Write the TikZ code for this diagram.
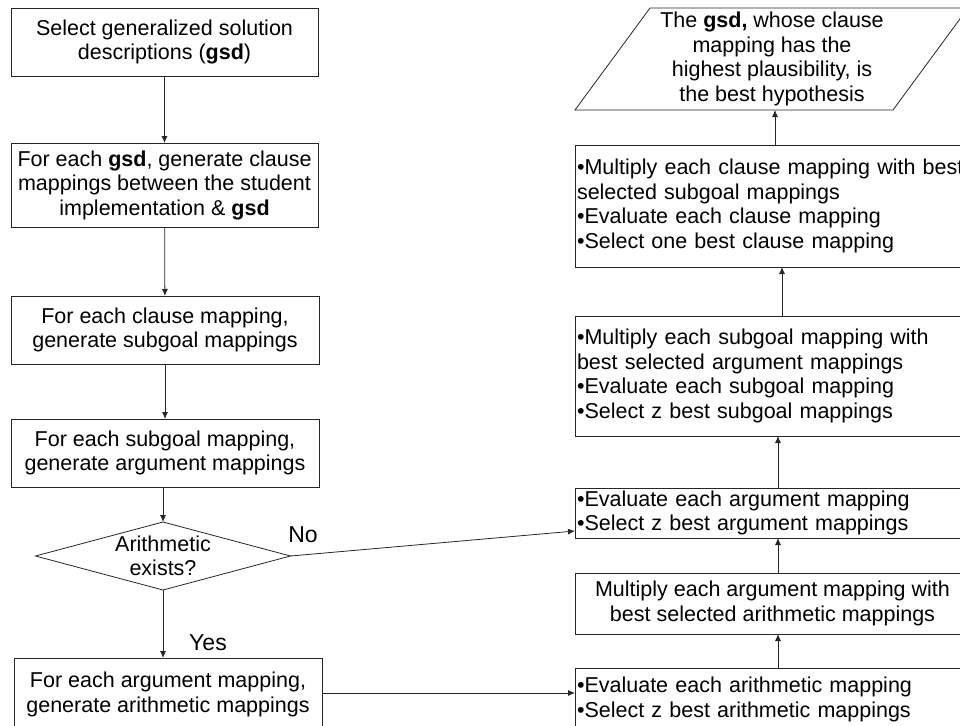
\documentclass[tikz,border=0pt]{standalone}
\usepackage{fontspec}
\setmainfont{Liberation Sans}
\usetikzlibrary{arrows.meta,shapes.geometric}
\begin{document}
\begin{tikzpicture}[x=1pt,y=-1pt,
  font=\fontsize{21.5}{24.5}\selectfont,
  every node/.style={inner sep=0pt, outer sep=0pt},
  lbox/.style={draw=black!85, line width=0.8pt, minimum width=307pt, align=center},
  rbox/.style={draw=black!85, line width=0.8pt, text width=391pt, inner xsep=2pt, align=left},
  rcbox/.style={draw=black!85, line width=0.8pt, minimum width=395pt, align=center},
  conn/.style={draw=black!85, line width=0.8pt, -{Latex[length=7pt,width=6pt]}},
  lbl/.style={font=\fontsize{23}{26}\selectfont}
]
\useasboundingbox (0,0) rectangle (960,725);
% left column
\node[lbox, minimum height=68pt] (b1) at (164.5,42) {Select generalized solution\\descriptions (\textbf{gsd})};
\node[lbox, minimum height=84pt] (b2) at (164.5,185) {For each \textbf{gsd}, generate clause\\mappings between the student\\implementation \& \textbf{gsd}};
\node[lbox, minimum height=68pt, minimum width=308pt] (b3) at (165,330) {For each clause mapping,\\generate subgoal mappings};
\node[lbox, minimum height=68pt, minimum width=308pt] (b4) at (165,453) {For each subgoal mapping,\\generate argument mappings};
\node[diamond, aspect=3.75, draw=black!85, line width=0.8pt, minimum width=255pt, minimum height=68pt, align=center] (d) at (163,556) {};
\node[align=center] at (163,556) {Arithmetic\\exists?};
\node[lbox, minimum height=73pt, minimum width=308pt] (b5) at (168,694.5) {For each argument mapping,\\generate arithmetic mappings};
% right column
\draw[black!85, line width=0.8pt] (575,110) -- (893,110) -- (968,8) -- (650,8) -- cycle;
\node[minimum width=318pt, minimum height=102pt, align=center] (p) at (772,59) {The \textbf{gsd,} whose clause\\mapping has the\\highest plausibility, is\\the best hypothesis};
\node[rbox, minimum height=122pt] (r1) at (772.5,206) {•Multiply each clause mapping with best\\selected subgoal mappings\\•Evaluate each clause mapping\\•Select one best clause mapping};
\node[rbox, minimum height=120pt] (r2) at (772.5,376) {•Multiply each subgoal mapping with\\best selected argument mappings\\•Evaluate each subgoal mapping\\•Select z best subgoal mappings};
\node[rbox, minimum height=50pt] (r3) at (772.5,513) {•Evaluate each argument mapping\\•Select z best argument mappings};
\node[rcbox, minimum height=61pt] (r4) at (772.5,603.5) {Multiply each argument mapping with\\best selected arithmetic mappings};
\node[rbox, minimum height=63pt] (r5) at (772.5,699.5) {•Evaluate each arithmetic mapping\\•Select z best arithmetic mappings};
% connectors left
\draw[conn] (b1) -- (b2);
\draw[conn] (b2) -- (b3);
\draw[conn] (b3) -- (b4);
\draw[conn] (b4.south -| d.north) -- (d.north);
\draw[conn] (d.south) -- (d.south |- b5.north);
\node[lbl] (yes) at (208,643) {Yes};
% connectors right
\draw[conn] (d.east) -- ([yshift=-18pt]r3.west);
\node[lbl] (no) at (303,535) {No};
\draw[conn] ([yshift=1.5pt]b5.east) -- ([yshift=1.5pt]b5.east -| r5.west);
\draw[conn] ([xshift=5.5pt]r5.north) -- ([xshift=5.5pt]r4.south);
\draw[conn] ([xshift=5.5pt]r4.north) -- ([xshift=5.5pt]r3.south);
\draw[conn] ([xshift=5.5pt]r3.north) -- ([xshift=5.5pt]r2.south);
\draw[conn] ([xshift=9.5pt]r2.north) -- ([xshift=9.5pt]r1.south);
\draw[conn] ([xshift=2.5pt]r1.north) -- ([xshift=3pt]p.south);
\end{tikzpicture}
\end{document}
